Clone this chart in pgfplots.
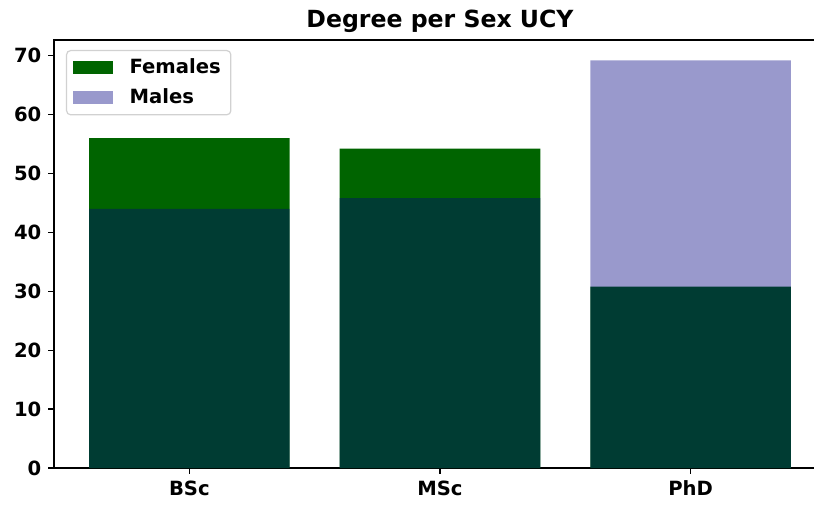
\documentclass[border=0pt]{standalone}
\usepackage{fontspec}
\setmainfont{DejaVu Sans}
\usepackage{pgfplots}
\pgfplotsset{compat=1.18}
\definecolor{fem}{HTML}{006400}
\definecolor{mal}{HTML}{000080}
\begin{document}
\begin{tikzpicture}
\begin{axis}[
  name=ax,
  scale only axis,
  width=386pt, height=214pt,
  xmin=-0.54, xmax=2.54,
  ymin=0, ymax=72.66,
  xtick={0,1,2},
  xticklabels={BSc,MSc,PhD},
  ytick={0,10,...,70},
  tick align=outside,
  tick pos=left,
  major tick length=2.8pt,
  axis line style={line width=0.6pt},
  tick style={line width=0.6pt, black},
  /pgf/number format/assume math mode=true,
  ticklabel style={font=\fontsize{9.8}{11}\selectfont\bfseries},
  title={Degree per Sex UCY},
  title style={font=\fontsize{11.8}{13}\selectfont\bfseries, yshift=-6pt},
  legend style={at={(0,1)}, anchor=north west, xshift=6pt, yshift=-5pt,
    draw=black!18, rounded corners=2pt, line width=0.6pt,
    font=\fontsize{9.8}{11}\selectfont\bfseries,
    inner xsep=3pt, inner ysep=2pt, row sep=2.2pt},
  legend cell align=left,
  legend image code/.code={\fill[#1, sharp corners] (0pt,-3.25pt) rectangle (20pt,3.25pt); \path (26.5pt,0pt);},
]
\addplot[ybar, bar width=0.8, bar shift=0pt, draw=none, fill=fem] coordinates {(0,56.0) (1,54.2) (2,30.8)};
\addlegendentry{Females}
\addplot[ybar, bar width=0.8, bar shift=0pt, draw=none, fill=mal, fill opacity=0.4] coordinates {(0,44.0) (1,45.8) (2,69.2)};
\addlegendentry{Males}
\end{axis}
\pgfresetboundingbox
\path[use as bounding box] ([xshift=-27pt,yshift=-18pt]ax.south west) rectangle ([xshift=380pt,yshift=234pt]ax.south west);
\end{tikzpicture}
\end{document}
